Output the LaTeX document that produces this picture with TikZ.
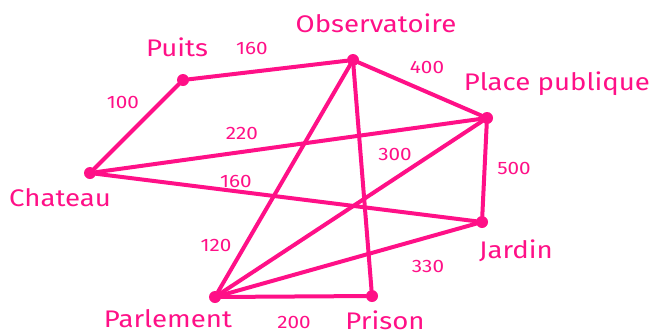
\documentclass[tikz,border=0pt]{standalone}
\usepackage{fontspec}
\setmainfont{Fira Sans}
\newfontfamily\widefont[FakeStretch=1.15]{Fira Sans}
\definecolor{pinkc}{RGB}{255,16,135}
\begin{document}
\begin{tikzpicture}[x=1pt,y=-1pt,
  vert/.style={circle,fill=pinkc,inner sep=0pt,minimum size=12pt},
  edge/.style={draw=pinkc,line width=4pt,line cap=round},
  vlabel/.style={text=pinkc,font=\widefont\fontsize{24}{28}\selectfont,inner sep=0pt},
  wt/.style={text=pinkc,font=\widefont\fontsize{18}{21}\selectfont,inner sep=0pt}]
\useasboundingbox (0,0) rectangle (650,335);
\node[vert] (pu) at (183,80) {};
\node[vert] (ob) at (353,60) {};
\node[vert] (pl) at (487,118) {};
\node[vert] (ch) at (90,173) {};
\node[vert] (ja) at (482,222) {};
\node[vert] (pa) at (215,297) {};
\node[vert] (pr) at (372,296) {};
\draw[edge] (pu) -- (ob);
\draw[edge] (pu) -- (ch);
\draw[edge] (ob) -- (pl);
\draw[edge] (ob) -- (pa);
\draw[edge] (ob) -- (pr);
\draw[edge] (ch) -- (pl);
\draw[edge] (ch) -- (ja);
\draw[edge] (pl) -- (ja);
\draw[edge] (pl) -- (pa);
\draw[edge] (pa) -- (ja);
\draw[edge] (pa) -- (pr);
\node[vlabel] (lpu) at (177,47) {Puits};
\node[vlabel] (lob) at (376,23) {Observatoire};
\node[vlabel] (lpl) at (557,84) {Place publique};
\node[vlabel] (lch) at (60,198) {Chateau};
\node[vlabel] (lja) at (516,251) {Jardin};
\node[vlabel] (lpa) at (168,319) {Parlement};
\node[vlabel] (lpr) at (385,320) {Prison};
\node[wt] (w1) at (252,48) {160};
\node[wt] (w2) at (427,67) {400};
\node[wt] (w3) at (123,102) {100};
\node[wt] (w4) at (242,133) {220};
\node[wt] (w5) at (395,154) {300};
\node[wt] (w6) at (514,168) {500};
\node[wt] (w7) at (236,181) {160};
\node[wt] (w8) at (216,245) {120};
\node[wt] (w9) at (428,266) {330};
\node[wt] (w10) at (294,322) {200};
\end{tikzpicture}
\end{document}
